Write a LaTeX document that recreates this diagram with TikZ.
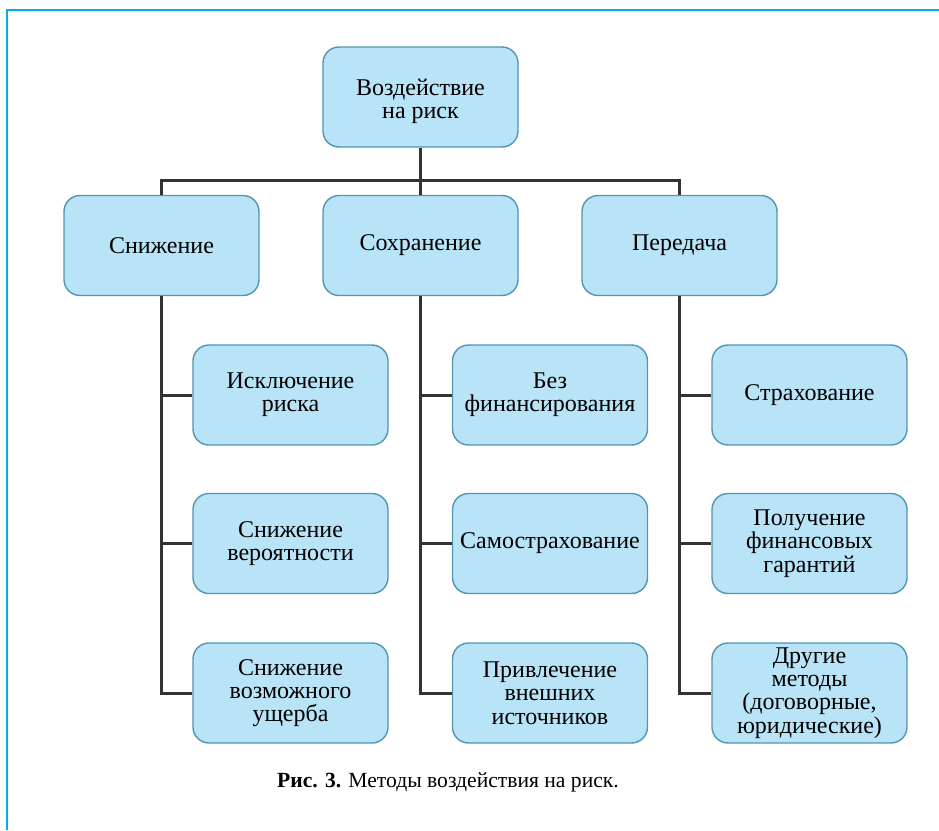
\documentclass[tikz,border=0pt]{standalone}
\usepackage{fontspec}
\setmainfont{Liberation Serif}
\definecolor{boxfill}{HTML}{B9E3F6}
\definecolor{boxline}{HTML}{5296B0}
\definecolor{frameblue}{HTML}{00AEEF}
\definecolor{linkgray}{HTML}{333333}
\tikzset{
  box/.style={draw=boxline,fill=boxfill,line width=1.4pt,rounded corners=16pt,
    minimum width=195pt,minimum height=100pt,align=center,inner sep=0pt,
    font=\fontsize{24}{23.3}\selectfont},
  link/.style={draw=linkgray,line width=3pt},
}
\begin{document}
\begin{tikzpicture}[x=1pt,y=-1pt]
	\useasboundingbox (0,0) rectangle (939,830);
	\draw[frameblue,line width=2.5pt] (7,830)--(7,10)--(939,10);
	\node[box] (root) at (420.5,97) {\raisebox{0pt}[\dimexpr\height+10pt\relax][\depth]{\begin{tabular}{@{}c@{}}Воздействие\\на риск\end{tabular}}};
	\coordinate (bus) at (420.5,180);
	\node[box] (A) at (161.5,245.5) {Снижение};
	\node[box] (B) at (420.5,245.5) {Сохранение};
	\node[box] (C) at (679.5,245.5) {Передача};
	\node[box] (A1) at (290.5,395) {Исключение\\риска};
	\node[box] (A2) at (290.5,543.5) {Снижение\\вероятности};
	\node[box] (A3) at (290.5,693) {Снижение\\возможного\\ущерба};
	\node[box] (B1) at (550,395) {Без\\финансирования};
	\node[box] (B2) at (550,543.5) {Самострахование};
	\node[box] (B3) at (550,693) {Привлечение\\внешних\\источников};
	\node[box] (C1) at (809.5,395) {Страхование};
	\node[box] (C2) at (809.5,543.5) {Получение\\финансовых\\гарантий};
	\node[box] (C3) at (809.5,693) {Другие\\методы\\(договорные,\\юридические)};
	\draw[link] (root.south) -- (B.north);
	\draw[link] (A.north) -- (A.north |- bus) -- (C.north |- bus) -- (C.north);
	\foreach \p in {A,B,C}{
		\draw[link] (\p.south) |- (\p3.west);
		\foreach \i in {1,2}\draw[link] (\p.south |- \p\i.west) -- (\p\i.west);
	}
	\node[font=\fontsize{21.6}{26}\selectfont] (cap) at (448,782) {\textbf{Рис. 3.} Методы воздействия на риск.};
\end{tikzpicture}
\end{document}
